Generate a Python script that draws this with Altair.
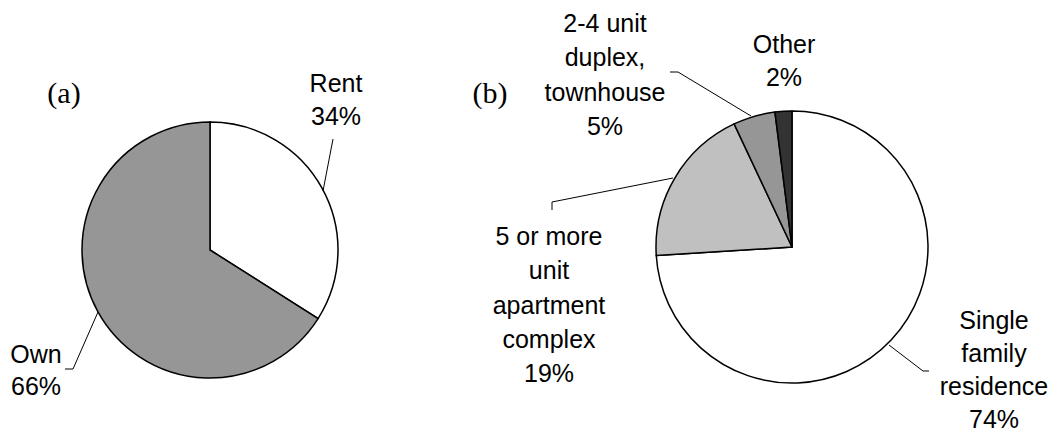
import altair as alt
import pandas as pd

# ---- data ----
cats_a = ["Rent", "Own"]
vals_a = [34, 66]
cols_a = ["#ffffff", "#969696"]

cats_b = ["Single family residence", "5 or more unit apartment complex",
          "2-4 unit duplex, townhouse", "Other"]
vals_b = [74, 19, 5, 2]
cols_b = ["#ffffff", "#c0c0c0", "#969696", "#333333"]

label_lines_a = [["Rent"], ["Own"]]
label_lines_b = [["Single", "family", "residence"], ["5 or more", "unit", "apartment", "complex"],
                 ["2-4 unit", "duplex,", "townhouse"], ["Other"]]

# ---- layout (page pixels) ----
OFF = 8
W, H = 1046, 427
CA, RA = (210, 250), 128
CB, RB = (792, 247), 136
FS = 25
SANS = "Liberation Sans"
SERIF = "Liberation Serif"

# label anchor: (center x, first baseline, line spacing)
pos_a = [(336, 92, 33), (36, 363, 32)]
pos_b = [(994, 329, 33), (549, 245, 34.3), (605, 32, 34.3), (784, 53, 33)]

segments = [
    (323, 191, 333, 139),
    (98, 312, 73, 369), (73, 369, 65, 369),
    (751, 116, 678, 72), (678, 72, 670, 72),
    (673, 178, 552, 202), (552, 202, 552, 210),
    (889, 345, 923, 371), (923, 371, 929, 371),
]

df_a = pd.DataFrame({"cat_a": cats_a, "share_a": vals_a, "idx": range(len(cats_a))})
df_b = pd.DataFrame({"cat_b": cats_b, "share_b": vals_b, "idx": range(len(cats_b))})

pie_a = alt.Chart(df_a).mark_arc(outerRadius=RA, stroke="black", strokeWidth=1.5).encode(
    theta=alt.Theta("share_a:Q", stack=True),
    order=alt.Order("idx:Q"),
    color=alt.Color("cat_a:N", scale=alt.Scale(domain=cats_a, range=cols_a), legend=None),
    x=alt.value(CA[0] - OFF), y=alt.value(CA[1] - OFF),
)
pie_b = alt.Chart(df_b).mark_arc(outerRadius=RB, stroke="black", strokeWidth=1.5).encode(
    theta=alt.Theta("share_b:Q", stack=True),
    order=alt.Order("idx:Q"),
    color=alt.Color("cat_b:N", scale=alt.Scale(domain=cats_b, range=cols_b), legend=None),
    x=alt.value(CB[0] - OFF), y=alt.value(CB[1] - OFF),
)

rows = []
for lines, v, (cx, by, lh) in zip(label_lines_a + label_lines_b, vals_a + vals_b, pos_a + pos_b):
    all_lines = lines + [f"{v}%"]
    for i, t in enumerate(all_lines):
        rows.append({"tx": cx - OFF, "ty": by + i * lh - OFF, "txt": t})
lab_df = pd.DataFrame(rows)

labels = alt.Chart(lab_df).mark_text(font=SANS, fontSize=FS, color="black",
                                     align="center", baseline="alphabetic").encode(
    x=alt.X("tx:Q", scale=None), y=alt.Y("ty:Q", scale=None), text="txt:N")

panel_df = pd.DataFrame({"tx": [64 - OFF, 490 - OFF], "ty": [103 - OFF, 103 - OFF], "txt": ["(a)", "(b)"]})
panels = alt.Chart(panel_df).mark_text(font=SERIF, fontSize=30, color="black",
                                       align="center", baseline="alphabetic").encode(
    x=alt.X("tx:Q", scale=None), y=alt.Y("ty:Q", scale=None), text="txt:N")

seg_df = pd.DataFrame([{"x1": a - OFF, "y1": b - OFF, "x2": c - OFF, "y2": d - OFF} for a, b, c, d in segments])
leaders = alt.Chart(seg_df).mark_rule(color="black", strokeWidth=1).encode(
    x=alt.X("x1:Q", scale=None), y=alt.Y("y1:Q", scale=None),
    x2="x2:Q", y2="y2:Q")

chart = alt.layer(pie_a, pie_b, leaders, labels, panels).resolve_scale(
    theta="independent", color="independent"
).properties(
    width=W, height=H, padding=0, autosize=alt.AutoSizeParams(type="none")
).configure_view(stroke=None)

chart.save("out.html", embed_options={"renderer": "svg", "actions": False})
